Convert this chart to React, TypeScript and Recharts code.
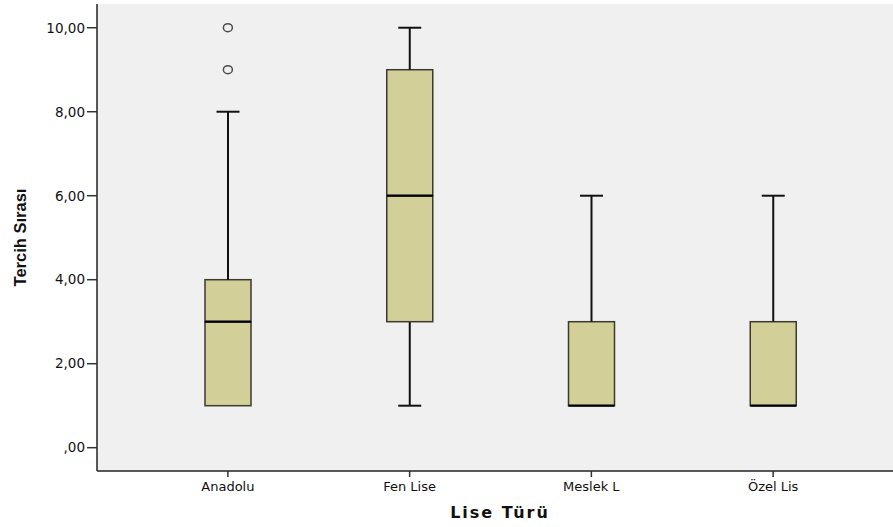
import { Bar, CartesianGrid, ComposedChart, Label, Scatter, XAxis, YAxis } from "recharts";

const categories = ["Anadolu", "Fen Lise", "Meslek L", "Özel Lis"];
const mins = [1, 1, 1, 1];
const q1s = [1, 3, 1, 1];
const medians = [3, 6, 1, 1];
const q3s = [4, 9, 3, 3];
const maxs = [8, 10, 6, 6];
// outliers per category (up to two)
const outliersA = [9, null, null, null];
const outliersB = [10, null, null, null];
const yTicks = [0, 2, 4, 6, 8, 10];

const rows = categories.map((name, i) => ({
  name,
  base: mins[i],
  lowWhisker: q1s[i] - mins[i],
  boxLow: medians[i] - q1s[i],
  boxHigh: q3s[i] - medians[i],
  highWhisker: maxs[i] - q3s[i],
  out1: outliersA[i],
  out2: outliersB[i]
}));

const BOX_FILL = "#d3cf98";
const BOX_STROKE = "#3a3a30";
const CAP = 23;
const FONT = "'DejaVu Sans', sans-serif";

const fmt = (v: number) => (v === 0 ? ",00" : v.toFixed(2).replace(".", ","));

function LowWhisker(p: any) {
  const { x, y, width, height } = p;
  if (!height || height <= 0) return <g />;
  const cx = x + width / 2;
  return (
    <g stroke="#111" strokeWidth={2}>
      <line x1={cx} x2={cx} y1={y} y2={y + height} />
      <line x1={cx - CAP / 2} x2={cx + CAP / 2} y1={y + height} y2={y + height} />
    </g>
  );
}

function HighWhisker(p: any) {
  const { x, y, width, height } = p;
  if (!height || height <= 0) return <g />;
  const cx = x + width / 2;
  return (
    <g stroke="#111" strokeWidth={2}>
      <line x1={cx} x2={cx} y1={y} y2={y + height} />
      <line x1={cx - CAP / 2} x2={cx + CAP / 2} y1={y} y2={y} />
    </g>
  );
}

function BoxLow(p: any) {
  const { x, y, width, height } = p;
  if (!height || height <= 0) return <g />;
  return <rect x={x} y={y} width={width} height={height} fill={BOX_FILL} stroke={BOX_STROKE} strokeWidth={1.5} />;
}

function BoxHigh(p: any) {
  const { x, y, width, height } = p;
  if (!height || height <= 0) return <g />;
  return (
    <g>
      <rect x={x} y={y} width={width} height={height} fill={BOX_FILL} stroke={BOX_STROKE} strokeWidth={1.5} />
      <line x1={x} x2={x + width} y1={y + height} y2={y + height} stroke="#000" strokeWidth={2.2} />
    </g>
  );
}

function makeOutlier(key: string) {
  return (p: any) => {
    if (p.payload == null || p.payload[key] == null) return <g />;
    return <ellipse cx={p.cx} cy={p.cy} rx={4.5} ry={4} fill="#f0f0f0" stroke="#4a4a4a" strokeWidth={1.5} />;
  };
}

export default function App() {
  return (
    <div style={{ position: "absolute", left: 0, top: 0, width: 893, height: 527, background: "#fff" }}>
      <ComposedChart width={893} height={527} data={rows} margin={{ top: 4, right: 0, bottom: 0, left: 0 }}>
        <CartesianGrid fill="#f0f0f0" horizontal={false} vertical={false} />
        <XAxis
          xAxisId="top"
          orientation="top"
          dataKey="name"
          height={0}
          tick={false}
          tickLine={false}
          axisLine={{ stroke: "#8a8a8a", strokeWidth: 2 }}
          padding={{ left: 40, right: 29 }}
        />
        <XAxis
          dataKey="name"
          height={56}
          padding={{ left: 40, right: 29 }}
          tickSize={6}
          tickMargin={5}
          axisLine={{ stroke: "#222", strokeWidth: 1.5 }}
          tickLine={{ stroke: "#333", strokeWidth: 1.5 }}
          tick={{ fill: "#111", fontSize: 13, fontFamily: FONT }}
        >
          <Label
            content={({ viewBox }: any) => (
              <text
                x={viewBox.x + viewBox.width / 2 + 5}
                y={viewBox.y + 41}
                textAnchor="middle"
                dominantBaseline="central"
                fontFamily={FONT}
                fontWeight="bold"
                fontSize={16}
                letterSpacing={2}
                fill="#111"
              >
                Lise Türü
              </text>
            )}
          />
        </XAxis>
        <YAxis
          width={97}
          domain={[-0.555, 10.565]}
          allowDataOverflow
          ticks={yTicks}
          tickFormatter={fmt}
          tickSize={10}
          tickMargin={2}
          axisLine={{ stroke: "#222", strokeWidth: 1.5 }}
          tickLine={{ stroke: "#333", strokeWidth: 1.5 }}
          tick={{ fill: "#111", fontSize: 13.5, fontFamily: FONT }}
        >
          <Label
            content={({ viewBox }: any) => {
              const cx = viewBox.x + 20;
              const cy = viewBox.y + viewBox.height / 2;
              return (
                <text
                  x={cx}
                  y={cy}
                  transform={`rotate(-90 ${cx} ${cy})`}
                  textAnchor="middle"
                  dominantBaseline="central"
                  fontFamily="'Liberation Sans', Arial, sans-serif"
                  fontWeight="bold"
                  fontSize={16.5}
                  fill="#111"
                >
                  Tercih Sırası
                </text>
              );
            }}
          />
        </YAxis>
        <Bar dataKey="base" stackId="b" barSize={46} fill="none" isAnimationActive={false} />
        <Bar dataKey="lowWhisker" stackId="b" barSize={46} shape={LowWhisker} isAnimationActive={false} />
        <Bar dataKey="boxLow" stackId="b" barSize={46} shape={BoxLow} isAnimationActive={false} />
        <Bar dataKey="boxHigh" stackId="b" barSize={46} shape={BoxHigh} isAnimationActive={false} />
        <Bar dataKey="highWhisker" stackId="b" barSize={46} shape={HighWhisker} isAnimationActive={false} />
        <Scatter dataKey="out1" shape={makeOutlier("out1")} isAnimationActive={false} />
        <Scatter dataKey="out2" shape={makeOutlier("out2")} isAnimationActive={false} />
      </ComposedChart>
    </div>
  );
}
